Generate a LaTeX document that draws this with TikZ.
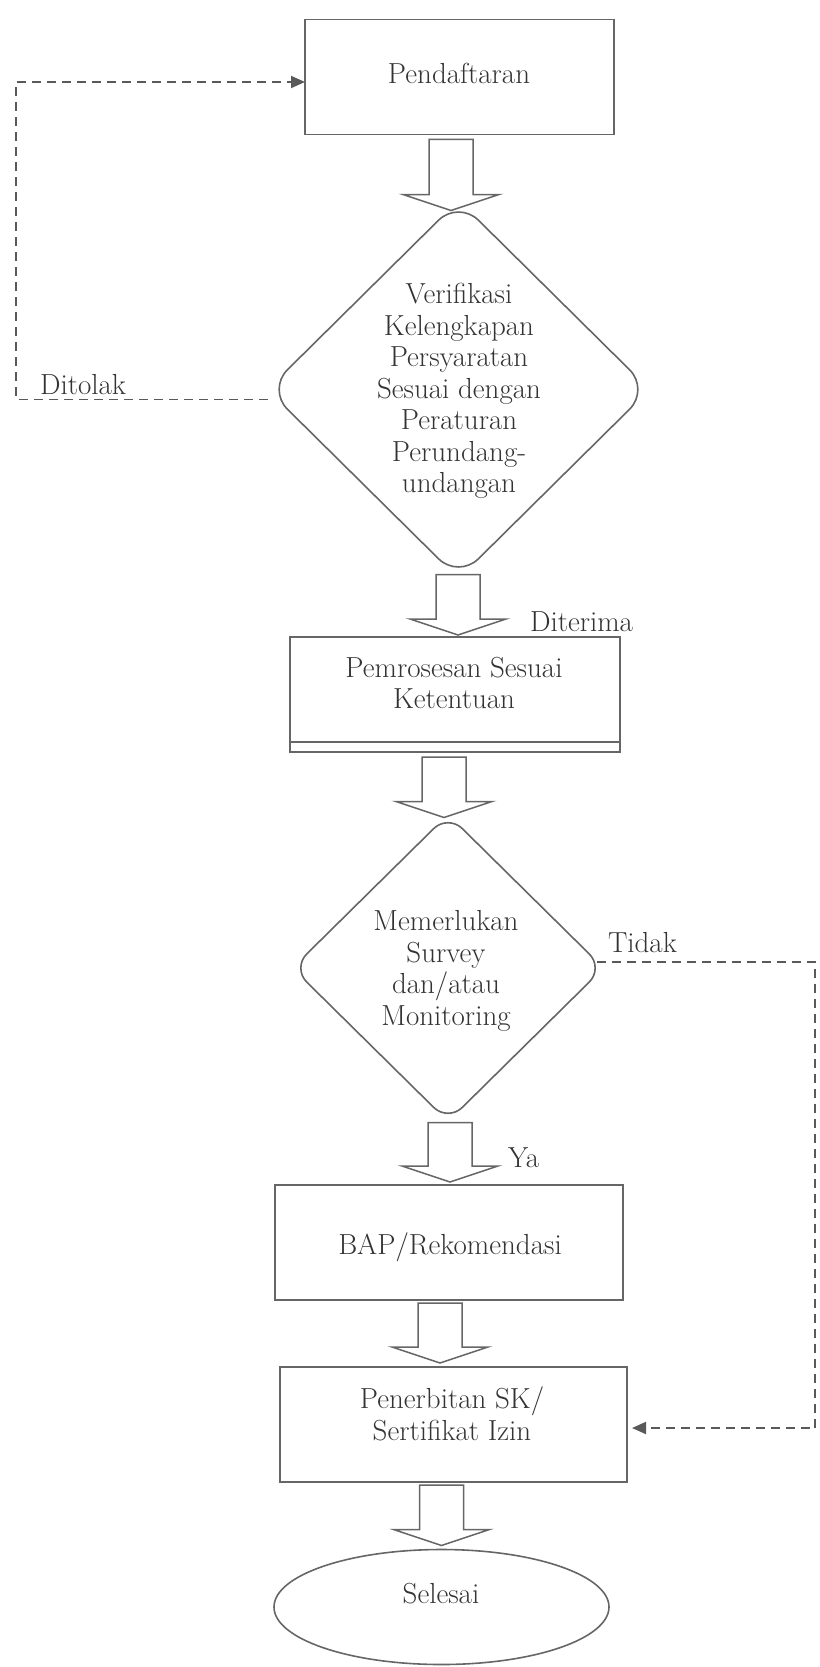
\documentclass[tikz,border=0pt]{standalone}
\usepackage{tikz}
\usetikzlibrary{shapes.geometric}
\usetikzlibrary{calc}
\usetikzlibrary{arrows.meta, positioning}

% hollow block arrow: from node, to node, x of the shaft, gap below source, gap at tip
\newcommand{\fatarrow}[5]{%
	\path ($(#1.south -| #3,0)+(0,#4)$) coordinate (fa-top)
	($(#2.north -| #3,0)+(0,#5)$) coordinate (fa-tip);
	\draw[blockarrow]
	($(fa-top)+(-22,0)$) --
	($(fa-tip)+(-22,-16)$) --
	($(fa-tip)+(-48,-16)$) --
	(fa-tip) --
	($(fa-tip)+(48,-16)$) --
	($(fa-tip)+(22,-16)$) --
	($(fa-top)+(22,0)$) -- cycle;
}

\begin{document}
\begin{tikzpicture}[
		x=1pt, y=-1pt,
		every node/.style={inner sep=0pt, outer sep=0pt},
		box/.style={draw=black!60, line width=1.8pt, rectangle, minimum height=115pt},
		dec/.style={draw=black!60, line width=1.6pt, diamond},
		txt/.style={align=center, text=black!80, font=\fontsize{29pt}{31.5pt}\selectfont},
		blockarrow/.style={draw=black!60, line width=1.5pt, fill=white, line join=miter},
		backline/.style={draw=black!65, line width=1.8pt, dash pattern=on 9pt off 6pt,
				-{Triangle[length=14pt, width=12pt]}}
	]
	\useasboundingbox (0,0) rectangle (819,1667);

	% shapes
	\node[box, minimum width=309pt] (daftar) at (459.5, 77) {};
	\node[dec, rounded corners=28pt, minimum width=382pt, minimum height=378pt] (verif) at (458.5, 389.5) {};
	\node[box, minimum width=330pt] (proses) at (455, 694.5) {};
	\node[dec, rounded corners=20pt, minimum width=311pt, minimum height=307pt] (survei) at (448, 968) {};
	\node[box, minimum width=348pt] (bap) at (449, 1242.5) {};
	\node[box, minimum width=347pt] (terbit) at (453.5, 1424.5) {};
	\node[ellipse, draw=black!60, line width=1.6pt, minimum width=335pt, minimum height=115pt] (selesai) at (441.5, 1607) {};

	\draw[draw=black!60, line width=1.4pt] ([yshift=10pt]proses.south west) -- ([yshift=10pt]proses.south east);

	% texts
	\node[txt] (daftar-t) at (459, 73) {Pendaftaran};
	\node[txt] (verif-t) at (459, 391) {Verifikasi\\Kelengkapan\\Persyaratan\\Sesuai dengan\\Peraturan\\Perundang-\\undangan};
	\node[txt] (proses-t) at (454, 683) {Pemrosesan Sesuai\\Ketentuan};
	\node[txt] (survei-t) at (446, 971) {Memerlukan\\Survey\\dan/atau\\Monitoring};
	\node[txt] (bap-t) at (450, 1247) {BAP/Rekomendasi};
	\node[txt] (terbit-t) at (452, 1414) {Penerbitan SK/\\Sertifikat Izin};
	\node[txt] (selesai-t) at (441, 1594) {Selesai};

	\node[txt, anchor=base west] (tolak) at (40, 394) {Ditolak};
	\node[txt, anchor=base west] (terima) at (530, 631) {Diterima};
	\node[txt, anchor=base west] (tidak) at (608, 952) {Tidak};
	\node[txt, anchor=base west] (ya) at (508, 1167) {Ya};

	% flow
	\fatarrow{daftar}{verif}{451}{5}{10}
	\fatarrow{verif}{proses}{458}{-4}{-2}
	\fatarrow{proses}{survei}{444}{5}{3}
	\fatarrow{survei}{bap}{450}{1}{-3}
	\fatarrow{bap}{terbit}{440}{3}{-4}
	\fatarrow{terbit}{selesai}{441.5}{3}{-4}

	% dashed returns
	\draw[backline] ([yshift=-10pt]verif.west) -| (16, 82) -- ([yshift=-5pt]daftar.west);
	\draw[backline] ([xshift=-7pt, yshift=6pt]survei.east) -| (815, 1428) -- ([xshift=5pt, yshift=-3.5pt]terbit.east);
\end{tikzpicture}
\end{document}
